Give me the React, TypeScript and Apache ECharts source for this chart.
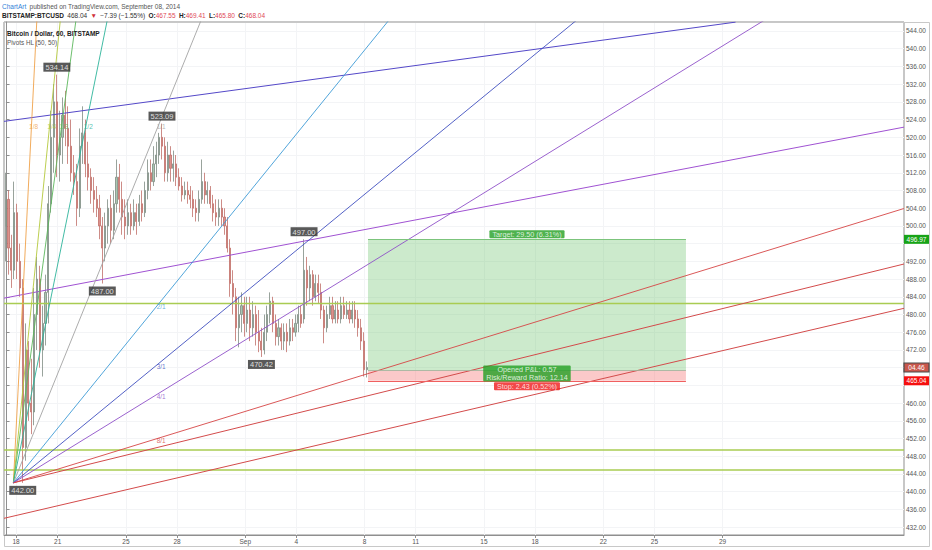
import React, { useEffect, useRef } from "react";
import * as echarts from "echarts";

const FONT = "'Liberation Sans', Arial, sans-serif";

// x axis unit: days since 18 Aug 2014 00:00
const X_MIN = -0.15;
const X_MAX = 52.64;
const Y_MIN = 430.23;
const Y_MAX = 546.03;

const xTickDays = [0.56, 3, 7, 10, 14, 17, 21, 24, 28, 31, 35, 38, 42];
const xTickLabels = ["18", "21", "25", "28", "Sep", "4", "8", "11", "15", "18", "22", "25", "29"];

const yTickValues = [432, 436, 440, 444, 448, 452, 456, 460, 464, 468, 472, 476, 480, 484, 488, 492, 496, 500, 504, 508, 512, 516, 520, 524, 528, 532, 536, 540, 544];
const yLabelValues = [432, 436, 440, 444, 448, 452, 456, 460, 472, 476, 480, 484, 488, 492, 500, 504, 508, 512, 516, 520, 524, 528, 532, 536, 540, 544];

// 4-hour candles: [open, close, low, high]
const CANDLE_T0 = -0.05;
const CANDLE_STEP = 1 / 6;
const ohlc: number[][] = [
  [500, 506, 492, 512], [506, 495, 489, 508], [495, 490, 486, 498], [490, 503, 488, 510],
  [503, 492, 488, 505], [492, 486, 484, 496], [486, 450, 442, 488], [450, 472, 447, 478],
  [472, 460, 456, 474], [460, 458, 453, 470], [458, 480, 455, 486], [480, 488, 472, 493],
  [488, 472, 468, 491], [472, 478, 466, 482], [478, 485, 473, 489], [485, 505, 478, 509],
  [505, 520, 503, 526], [520, 528, 512, 532], [528, 516, 511, 534.14], [516, 520, 510, 526],
  [520, 525, 514, 529], [525, 522, 518, 530.5], [522, 518, 514, 527], [518, 512, 510, 524],
  [512, 510, 507, 516], [510, 504, 500, 514], [504, 518, 502, 522], [518, 521, 514, 527],
  [521, 514, 511, 524], [514, 511, 508, 519], [511, 508, 505, 513], [508, 506, 503, 511],
  [506, 504, 502, 509], [504, 500, 497, 507], [500, 495, 487, 502], [495, 500, 492, 503],
  [500, 504, 496, 506], [504, 499, 496, 507], [499, 505, 497, 508], [505, 511, 503, 515],
  [511, 506, 503, 514], [506, 502, 498, 510], [502, 500, 497, 506], [500, 503, 498, 506],
  [503, 500, 498, 505], [500, 503, 499, 506], [503, 501, 498, 505], [501, 505, 500, 507],
  [505, 503, 501, 508], [503, 508, 502, 510], [508, 512, 506, 515], [512, 510, 508, 515],
  [510, 514, 509, 518], [514, 516, 511, 519], [516, 520, 514, 521], [520, 518, 515, 523.09],
  [518, 512, 510, 520], [512, 516, 510, 519], [516, 513, 510, 518], [513, 514, 510, 517],
  [514, 511, 509, 516], [511, 509, 508, 513], [509, 507, 505.5, 511], [507, 508, 506, 510],
  [508, 507, 505, 510], [507, 506, 504, 509], [506, 504, 502, 508], [504, 503, 501, 506],
  [503, 506, 501, 508], [506, 510, 505, 515], [510, 507, 505, 512], [507, 508, 505, 510],
  [508, 505, 504, 509], [505, 503, 501, 507], [503, 502, 500, 506], [502, 504, 500, 506],
  [504, 502, 500, 506], [502, 500, 498, 504], [500, 495, 494, 502], [495, 487, 484, 497],
  [487, 484, 480, 490], [484, 477, 474, 486], [477, 480, 472.6, 484], [480, 482, 476, 485],
  [482, 478, 475, 484], [478, 481, 476, 484], [481, 477, 474, 484], [477, 480, 475, 483],
  [480, 476, 473, 482], [476, 474, 471.5, 481], [474, 472, 470.42, 477], [472, 476, 471, 480],
  [476, 480, 474, 482], [480, 483, 478, 485], [483, 478, 476, 484], [478, 475, 473, 480],
  [475, 477, 473, 479], [477, 474, 472, 478], [474, 476, 472, 478], [476, 474, 471.5, 478],
  [474, 477, 473, 479], [477, 476, 474, 479], [476, 478, 475, 480], [478, 480, 476, 482],
  [480, 478, 477, 482], [479, 490, 478, 497], [490, 486, 482, 493], [486, 489, 483, 491],
  [489, 484, 482, 490], [484, 487, 483, 489], [487, 485, 482.6, 489], [485, 481, 479, 487],
  [481, 477, 473.5, 482], [477, 480, 476, 482], [480, 482, 479, 484], [482, 479, 478, 484],
  [479, 481, 478, 483], [481, 479, 478, 483], [479, 482, 478, 484], [482, 480, 479, 484],
  [480, 481, 479, 483], [481, 479, 478, 483], [479, 481, 478, 483], [481, 479, 477, 483],
  [479, 477, 475, 481], [477, 474, 472, 479], [474, 467.55, 466, 476], [467.55, 468.04, 465.8, 469.41],
];

// pivot highs / lows: candle index, price, side
const pivotIndex = [6, 18, 34, 55, 90, 105];
const pivotPrice = [442.0, 534.14, 487.0, 523.09, 470.42, 497.0];
const pivotSide = ["low", "high", "low", "high", "low", "high"];

// Gann fan
const fanOrigin = [0.4, 442.0];
const fanAnchor = [8.95, 523.09];
const fanNames = ["1/8", "1/4", "1/3", "1/2", "1/1", "2/1", "3/1", "4/1", "8/1"];
const fanMult = [8, 4, 3, 2, 1, 1 / 2, 1 / 3, 1 / 4, 1 / 8];
const fanColors = ["#efa24a", "#b4c83c", "#5cb85c", "#2db39a", "#a3a3a3", "#3d9bd6", "#3f4fc0", "#8e50c8", "#d64545"];

// hand-drawn trend lines [day, price] -> [day, price]
const trendStart = [[-0.15, 523.6], [-0.15, 483.7], [0.4, 442.0], [-0.15, 434.0]];
const trendEnd = [[42.76, 546.0], [52.64, 522.3], [52.64, 491.4], [52.64, 481.4]];
const trendColors = ["#5448c8", "#a052d2", "#d34b4b", "#d34b4b"];

const horizontalLevels = [482.5, 449.4, 444.9];

// long position tool
const posStart = 21.2;
const posEnd = 39.85;
const posEntry = 467.47;
const posTarget = 496.97;
const posStop = 465.04;
const lastClose = 468.04;

export default function App() {
  const ref = useRef<HTMLDivElement>(null);

  useEffect(() => {
    document.body.style.margin = "0";
    const chart = echarts.init(ref.current!, null, { renderer: "svg" });

    const candles = ohlc.map((c, i) => [CANDLE_T0 + i * CANDLE_STEP, c[0], c[1], c[2], c[3]]);

    const fdx = fanAnchor[0] - fanOrigin[0];
    const fdy = fanAnchor[1] - fanOrigin[1];
    const fanSeries = fanMult.map((m, i) => ({
      type: "line",
      silent: true,
      showSymbol: false,
      z: 3,
      clip: true,
      data: [fanOrigin, [X_MAX, fanOrigin[1] + (fdy / fdx) * m * (X_MAX - fanOrigin[0])]],
      lineStyle: { color: fanColors[i], width: 0.9 },
    }));
    const fanLabelData = fanMult.map((m, i) => ({
      value: m >= 1 ? [fanOrigin[0] + fdx / m, fanAnchor[1]] : [fanAnchor[0], fanOrigin[1] + fdy * m],
      label: {
        show: true,
        position: "inside",
        offset: [2, 3],
        formatter: fanNames[i],
        color: fanColors[i],
        fontSize: 6.5,
        fontFamily: FONT,
      },
    }));

    const trendSeries = trendStart.map((s, i) => ({
      type: "line",
      silent: true,
      showSymbol: false,
      z: 3,
      clip: true,
      data: [s, trendEnd[i]],
      lineStyle: { color: trendColors[i], width: 1 },
    }));

    const hSeries = horizontalLevels.map((p) => ({
      type: "line",
      silent: true,
      showSymbol: false,
      z: 3,
      data: [[X_MIN, p], [X_MAX, p]],
      lineStyle: { color: "#a9cc52", width: 1.5 },
    }));

    const pivotData = pivotIndex.map((idx, i) => ({
      value: [CANDLE_T0 + idx * CANDLE_STEP, pivotPrice[i]],
      label: {
        show: true,
        position: pivotSide[i] === "high" ? "top" : "bottom",
        distance: 3,
        formatter: pivotPrice[i].toFixed(2),
        color: "#ffffff",
        backgroundColor: "#2f2f2f",
        padding: [1, 2, 0, 2],
        fontSize: 7.5,
        fontFamily: FONT,
      },
    }));

    const posMid = (posStart + posEnd) / 2;
    const posLabels = [
      {
        value: [posMid, posTarget],
        label: {
          show: true,
          position: "top",
          distance: 1,
          formatter: `Target: ${(posTarget - posEntry).toFixed(2)} (${(((posTarget - posEntry) / posEntry) * 100).toFixed(2)}%)`,
          color: "#fff",
          backgroundColor: "#23a023",
          padding: [1, 3, 0, 3],
          borderRadius: 1,
          fontSize: 7.2,
          fontFamily: FONT,
        },
      },
      {
        value: [posMid, posEntry],
        label: {
          show: true,
          position: "inside",
          offset: [0, 3.5],
          formatter: `Opened P&L: ${(lastClose - posEntry).toFixed(2)}\nRisk/Reward Ratio: ${((posTarget - posEntry) / (posEntry - posStop)).toFixed(2)}`,
          color: "#fff",
          backgroundColor: "#23a023",
          padding: [1, 3, 0, 3],
          lineHeight: 7.6,
          align: "center",
          borderRadius: 1,
          fontSize: 7.2,
          fontFamily: FONT,
        },
      },
      {
        value: [posMid, posStop],
        label: {
          show: true,
          position: "bottom",
          distance: 1.5,
          formatter: `Stop: ${(posEntry - posStop).toFixed(2)} (${(((posEntry - posStop) / posEntry) * 100).toFixed(2)}%)`,
          color: "#fff",
          backgroundColor: "#f01c1c",
          padding: [1, 3, 0, 3],
          borderRadius: 1,
          fontSize: 7.2,
          fontFamily: FONT,
        },
      },
    ];

    const option: any = {
      animation: false,
      backgroundColor: "#ffffff",
      grid: {
        left: 4,
        right: 28,
        top: 22,
        bottom: 15,
        show: true,
        borderColor: "#8f8f8f",
        borderWidth: 1,
        backgroundColor: "#ffffff",
      },
      xAxis: {
        type: "value",
        min: X_MIN,
        max: X_MAX,
        axisLine: { show: true, lineStyle: { color: "#8f8f8f" } },
        axisTick: { show: true, length: 3, customValues: xTickDays, lineStyle: { color: "#8f8f8f" } },
        axisLabel: {
          customValues: xTickDays,
          margin: 3,
          fontSize: 6.5,
          color: "#555",
          fontFamily: FONT,
          formatter: (v: number) => {
            let best = 0;
            xTickDays.forEach((d, i) => {
              if (Math.abs(d - v) < Math.abs(xTickDays[best] - v)) best = i;
            });
            return xTickLabels[best];
          },
        },
        splitLine: { show: true, lineStyle: { color: "#f3f4f6" } },
      },
      yAxis: {
        type: "value",
        position: "right",
        min: Y_MIN,
        max: Y_MAX,
        axisLine: { show: true, lineStyle: { color: "#8f8f8f" } },
        axisTick: { show: true, length: 3, customValues: yTickValues, lineStyle: { color: "#8f8f8f" } },
        axisLabel: {
          customValues: yLabelValues,
          margin: 2,
          fontSize: 6.5,
          color: "#555",
          fontFamily: FONT,
          formatter: (v: number) => v.toFixed(2),
        },
        splitLine: { show: true, lineStyle: { color: "#f3f4f6" } },
      },
      series: [
        {
          type: "line",
          name: "position",
          silent: true,
          z: 1,
          data: [],
          markArea: {
            silent: true,
            data: [
              [{ coord: [posStart, posTarget], itemStyle: { color: "rgba(110,196,110,0.35)" } }, { coord: [posEnd, posEntry] }],
              [{ coord: [posStart, posEntry], itemStyle: { color: "rgba(245,120,120,0.4)" } }, { coord: [posEnd, posStop] }],
            ],
          },
          markLine: {
            silent: true,
            symbol: ["none", "none"],
            label: { show: false },
            data: [
              [{ coord: [posStart, posTarget], lineStyle: { color: "#7cc47c", width: 1, type: "solid" } }, { coord: [posEnd, posTarget] }],
              [{ coord: [posStart, posEntry], lineStyle: { color: "#9bb59b", width: 0.8, type: "solid" } }, { coord: [posEnd, posEntry] }],
              [{ coord: [posStart, posStop], lineStyle: { color: "#f06060", width: 1, type: "solid" } }, { coord: [posEnd, posStop] }],
            ],
          },
        },
        {
          type: "candlestick",
          name: "BTCUSD",
          z: 2,
          silent: true,
          barWidth: 1.6,
          data: candles,
          itemStyle: {
            color: "#a9c7b1",
            color0: "#dc918b",
            borderColor: "#7f8c83",
            borderColor0: "#c06e68",
            borderWidth: 0.8,
          },
        },
        ...hSeries,
        ...trendSeries,
        ...fanSeries,
        {
          type: "scatter",
          silent: true,
          z: 5,
          symbolSize: 0,
          data: fanLabelData,
        },
        {
          type: "scatter",
          silent: true,
          z: 6,
          symbolSize: 0,
          data: pivotData,
        },
        {
          type: "scatter",
          silent: true,
          z: 6,
          symbolSize: 0,
          data: posLabels,
        },
      ],
    };

    chart.setOption(option);

    const tag = (price: number, text: string, fill: string, stroke?: string) => {
      const py = chart.convertToPixel({ yAxisIndex: 0 }, price) as number;
      return [
        {
          type: "rect",
          shape: { x: 904, y: py - 4.5, width: 25, height: 9 },
          style: { fill, stroke: stroke || fill, lineWidth: stroke ? 1.2 : 0 },
          z: 10,
        },
        {
          type: "text",
          x: 916.5,
          y: py,
          style: { text, fill: "#ffffff", fontSize: 6.5, fontFamily: FONT, align: "center", verticalAlign: "middle" },
          z: 11,
        },
      ];
    };

    chart.setOption({
      graphic: [
        {
          type: "text",
          x: 2,
          y: 6,
          style: {
            text: "{a|ChartArt} {b|published on TradingView.com, September 08, 2014}",
            verticalAlign: "middle",
            rich: {
              a: { fill: "#2f7fd8", fontSize: 6.5, fontFamily: FONT },
              b: { fill: "#555555", fontSize: 6.5, fontFamily: FONT },
            },
          },
        },
        {
          type: "text",
          x: 2,
          y: 15.5,
          style: {
            text: "{k|BITSTAMP:BTCUSD} {v|468.04} {r|▼} {v|−7.39 (−1.55%)} {k|O:}{p|467.55} {k|H:}{p|469.41} {k|L:}{p|465.80} {k|C:}{p|468.04}",
            verticalAlign: "middle",
            rich: {
              k: { fill: "#222222", fontSize: 6.5, fontWeight: "bold", fontFamily: FONT },
              v: { fill: "#333333", fontSize: 6.5, fontFamily: FONT },
              r: { fill: "#d0303a", fontSize: 6.5, fontFamily: FONT },
              p: { fill: "#e04858", fontSize: 6.5, fontFamily: FONT },
            },
          },
        },
        {
          type: "text",
          x: 7,
          y: 33,
          style: { text: "Bitcoin / Dollar, 60, BITSTAMP", fill: "#222", fontSize: 6.5, fontWeight: "bold", fontFamily: FONT, verticalAlign: "middle" },
          z: 10,
        },
        {
          type: "text",
          x: 7,
          y: 42,
          style: { text: "Pivots HL (50, 50)", fill: "#555", fontSize: 6.3, fontFamily: FONT, verticalAlign: "middle" },
          z: 10,
        },
        {
          type: "rect",
          shape: { x: 4.5, y: 22.5, width: 925, height: 524 },
          style: { fill: "none", stroke: "#c8c8c8", lineWidth: 1 },
          silent: true,
        },
        ...tag(posTarget, posTarget.toFixed(2), "#17a317"),
        ...tag(lastClose, "04.46", "#c9574c", "#4a4a4a"),
        ...tag(posStop, posStop.toFixed(2), "#f50f0f"),
      ],
    });

    return () => chart.dispose();
  }, []);

  return <div ref={ref} style={{ position: "fixed", left: 0, top: 0, width: 932, height: 550 }} />;
}
